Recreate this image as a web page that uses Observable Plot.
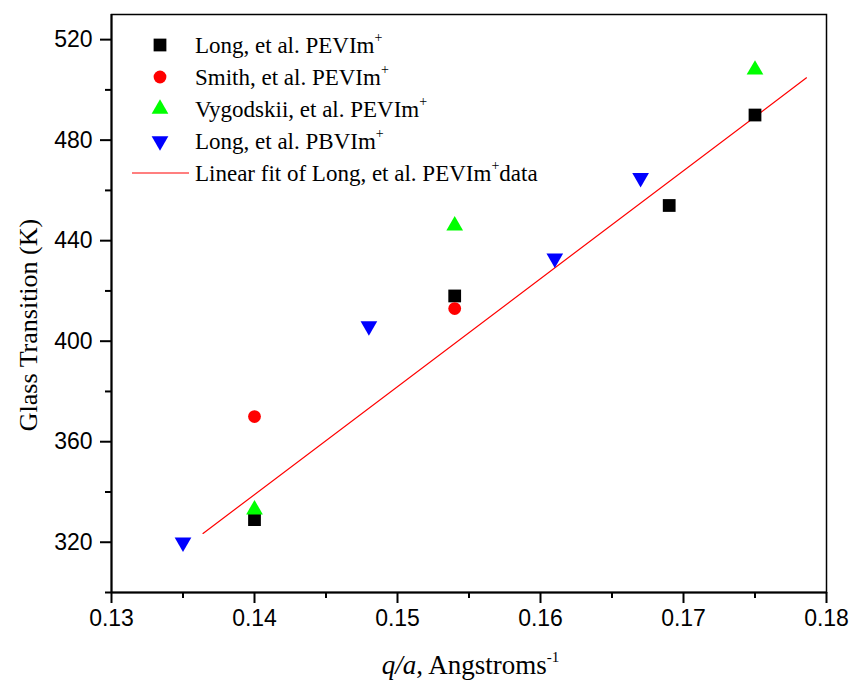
<!DOCTYPE html>
<html>
<head>
<meta charset="utf-8">
<script src="https://cdn.jsdelivr.net/npm/d3@7"></script>
<script src="https://cdn.jsdelivr.net/npm/@observablehq/plot@0.6"></script>
<style>
  html, body { margin: 0; padding: 0; background: #fff; }
  #chart { width: 850px; height: 684px; }
  #chart svg g[aria-label$="tick label"],
  #chart svg g[aria-label$="tick label"] text {
    font-size: 23px !important;
    font-family: 'Liberation Sans', Arial, sans-serif !important;
  }
</style>
</head>
<body>
<div id="chart"></div>
<script>
// ---- data ----
const longPEVx = [0.140, 0.154, 0.169, 0.175];
const longPEVy = [329, 418, 454, 490];
const smithX = [0.140, 0.154];
const smithY = [370, 413];
const vygX = [0.140, 0.154, 0.175];
const vygY = [333, 446, 508];
const longPBVx = [0.135, 0.148, 0.161, 0.167];
const longPBVy = [320, 406, 433, 465];
const fitX = [0.1364, 0.1786];
const fitY = [323.5, 504.8];

const xDomain = [0.13, 0.18];
const yDomain = [300, 530];
const xMajor = [0.13, 0.14, 0.15, 0.16, 0.17, 0.18];
const xMinor = [0.135, 0.145, 0.155, 0.165, 0.175];
const yMajor = [320, 360, 400, 440, 480, 520];
const yMinor = [300, 340, 380, 420, 460, 500];

const seriesNames = [
  "Long, et al. PEVIm",
  "Smith, et al. PEVIm",
  "Vygodskii, et al. PEVIm",
  "Long, et al. PBVIm"
];
const fitName = ["Linear fit of Long, et al. PEVIm", "data"];
const colors = ["#000000", "#ff0000", "#00ff00", "#0000ff"];

const toRows = (xs, ys) => xs.map((x, i) => ({x, y: ys[i]}));

const triDown = {
  draw(ctx, size) {
    const y = -Math.sqrt(size / (Math.sqrt(3) * 3));
    ctx.moveTo(0, -2 * y);
    ctx.lineTo(-Math.sqrt(3) * y, y);
    ctx.lineTo(Math.sqrt(3) * y, y);
    ctx.closePath();
  }
};
const symbols = ["square", "circle", "triangle", triDown];
const radii = [7.2, 6.4, 6.2, 6.2];

const W = 850, H = 684;
const mL = 111, mR = 24, mT = 14, mB = 92;
const sans = "'Liberation Sans', Arial, sans-serif";

const plot = Plot.plot({
  width: W,
  height: H,
  marginLeft: mL,
  marginRight: mR,
  marginTop: mT,
  marginBottom: mB,
  style: {fontFamily: sans, fontSize: "23px", color: "#000", background: "#fff"},
  x: {domain: xDomain},
  y: {domain: yDomain},
  marks: [
    Plot.frame({stroke: "#000", strokeWidth: 1.5}),
    Plot.ruleX([xDomain[0]], {stroke: "#000", strokeWidth: 2}),
    Plot.ruleY([yDomain[0]], {stroke: "#000", strokeWidth: 2}),
    Plot.axisX({ticks: xMajor, tickSize: 11, tickPadding: 6, tickFormat: d3.format(".2f"), label: null, strokeWidth: 2, fontSize: 23, fontFamily: sans}),
    Plot.axisX({ticks: xMinor, tickSize: 6, tickFormat: () => "", label: null, strokeWidth: 2}),
    Plot.axisY({ticks: yMajor, tickSize: 11, tickPadding: 8, label: null, strokeWidth: 2, fontSize: 23, fontFamily: sans}),
    Plot.axisY({ticks: yMinor, tickSize: 6, tickFormat: () => "", label: null, strokeWidth: 2}),
    Plot.line(toRows(fitX, fitY), {x: "x", y: "y", stroke: colors[1], strokeWidth: 1.2}),
    Plot.dot(toRows(longPEVx, longPEVy), {x: "x", y: "y", symbol: symbols[0], r: radii[0], fill: colors[0], stroke: "none"}),
    Plot.dot(toRows(smithX, smithY), {x: "x", y: "y", symbol: symbols[1], r: radii[1], fill: colors[1], stroke: "none"}),
    Plot.dot(toRows(vygX, vygY), {x: "x", y: "y", symbol: symbols[2], r: radii[2], fill: colors[2], stroke: "none"}),
    Plot.dot(toRows(longPBVx, longPBVy), {x: "x", y: "y", symbol: symbols[3], r: radii[3], fill: colors[3], stroke: "none"})
  ]
});
document.getElementById("chart").appendChild(plot);

const svg = d3.select(plot);
// make sure tick labels use the intended size
svg.selectAll('g[aria-label$="tick label"] text')
  .style("font-size", "23px")
  .style("font-family", sans);

// ---- titles and legend (SVG text added after render) ----
const serif = "'Liberation Serif', 'Times New Roman', serif";

// Y axis title
svg.append("text")
  .attr("transform", `translate(37,${(mT + H - mB) / 2 + 22}) rotate(-90)`)
  .attr("text-anchor", "middle")
  .attr("font-family", serif)
  .attr("font-size", 26)
  .attr("fill", "#000")
  .text("Glass Transition (K)");

// X axis title
const xt = svg.append("text")
  .attr("x", (mL + W - mR) / 2 + 2)
  .attr("y", 674)
  .attr("text-anchor", "middle")
  .attr("font-family", serif)
  .attr("font-size", 27)
  .attr("fill", "#000");
xt.append("tspan").attr("font-style", "italic").text("q/a");
xt.append("tspan").text(", Angstroms");
xt.append("tspan").attr("font-size", 15).attr("dy", -12).text("-1");

// Legend
const lg = svg.append("g")
  .attr("font-family", serif)
  .attr("font-size", 23)
  .attr("text-anchor", "start")
  .attr("fill", "#000");
const rowY = [45, 77, 109, 141, 173];
const symFns = [d3.symbolSquare, d3.symbolCircle, d3.symbolTriangle, triDown];
seriesNames.forEach((name, i) => {
  lg.append("path")
    .attr("transform", `translate(160,${rowY[i]})`)
    .attr("d", d3.symbol(symFns[i], Math.PI * radii[i] * radii[i])())
    .attr("fill", colors[i]);
  const t = lg.append("text").attr("x", 195).attr("y", rowY[i] + 8).attr("text-anchor", "start");
  t.append("tspan").text(name);
  t.append("tspan").attr("font-size", 14).attr("dy", -11).text("+");
});
lg.append("line")
  .attr("x1", 132).attr("x2", 189)
  .attr("y1", rowY[4]).attr("y2", rowY[4])
  .attr("stroke", colors[1]).attr("stroke-width", 1.2);
const ft = lg.append("text").attr("x", 195).attr("y", rowY[4] + 8).attr("text-anchor", "start");
ft.append("tspan").text(fitName[0]);
ft.append("tspan").attr("font-size", 14).attr("dy", -11).text("+");
ft.append("tspan").attr("dy", 11).text(fitName[1]);
</script>
</body>
</html>
